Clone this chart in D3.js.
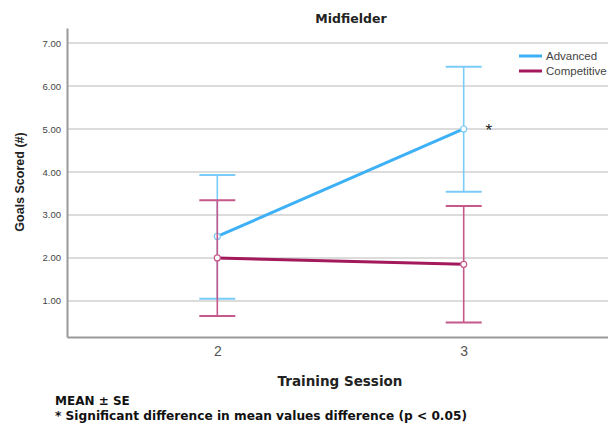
<!DOCTYPE html>
<html>
<head>
<script src="https://d3js.org/d3.v7.min.js"></script>
<style>
  body { margin: 0; background: #fff; }
  text { font-family: "Liberation Sans", Arial, sans-serif; }
</style>
</head>
<body>
<div id="chart"></div>
<script>
// data
var sessions = ["2", "3"];
var groups = ["Advanced", "Competitive"];
var advancedMean = [2.50, 5.00];
var advancedLow = [1.05, 3.54];
var advancedHigh = [3.93, 6.45];
var competitiveMean = [2.00, 1.85];
var competitiveLow = [0.65, 0.50];
var competitiveHigh = [3.34, 3.21];
var yTicks = [1, 2, 3, 4, 5, 6, 7];

var lineColors = ["#3db0f6", "#a3195b"];
var barColors = ["#7acbf7", "#c6588a"];

var width = 608, height = 425;
var margin = {left: 67, right: -6, top: 28, bottom: 88};

var svg = d3.select("#chart").append("svg")
  .attr("width", width)
  .attr("height", height);

var x = d3.scalePoint().domain(sessions)
  .range([margin.left, width - margin.right])
  .padding(0.61);
var y = d3.scaleLinear().domain([0.16, 7.35])
  .range([height - margin.bottom, margin.top]);

// gridlines
svg.append("g").selectAll("line")
  .data(yTicks)
  .enter().append("line")
  .attr("x1", margin.left).attr("x2", width)
  .attr("y1", function(d) { return y(d); })
  .attr("y2", function(d) { return y(d); })
  .attr("stroke", "#dcdcdc")
  .attr("stroke-width", 2);

// y axis
var yAxis = svg.append("g")
  .attr("transform", "translate(" + margin.left + ",0)")
  .call(d3.axisLeft(y).tickValues(yTicks).tickFormat(d3.format(".2f")).tickSize(0).tickPadding(6));
yAxis.select(".domain").attr("stroke", "#9a9a9a").attr("stroke-width", 2);
yAxis.selectAll("text").style("font-size", "9.5px").attr("fill", "#444");

// x axis
var xAxis = svg.append("g")
  .attr("transform", "translate(0," + (height - margin.bottom) + ")")
  .call(d3.axisBottom(x).tickSize(0).tickPadding(9));
xAxis.select(".domain").attr("stroke", "#9a9a9a").attr("stroke-width", 2);
xAxis.selectAll("text").style("font-size", "14px").attr("fill", "#555");

var series = [
  {name: groups[0], mean: advancedMean, low: advancedLow, high: advancedHigh},
  {name: groups[1], mean: competitiveMean, low: competitiveLow, high: competitiveHigh}
];

var line = d3.line()
  .x(function(d, i) { return x(sessions[i]); })
  .y(function(d) { return y(d); });

series.forEach(function(s, k) {
  var g = svg.append("g");
  // error bars
  sessions.forEach(function(sess, i) {
    g.append("line")
      .attr("x1", x(sess)).attr("x2", x(sess))
      .attr("y1", y(s.low[i])).attr("y2", y(s.high[i]))
      .attr("stroke", barColors[k]).attr("stroke-width", 1.6);
    [s.low[i], s.high[i]].forEach(function(v) {
      g.append("line")
        .attr("x1", x(sess) - 18).attr("x2", x(sess) + 18)
        .attr("y1", y(v)).attr("y2", y(v))
        .attr("stroke", barColors[k]).attr("stroke-width", 2);
    });
  });
  g.append("path")
    .datum(s.mean)
    .attr("fill", "none")
    .attr("stroke", lineColors[k])
    .attr("stroke-width", 3)
    .attr("d", line);
  g.selectAll("circle")
    .data(s.mean)
    .enter().append("circle")
    .attr("cx", function(d, i) { return x(sessions[i]); })
    .attr("cy", function(d) { return y(d); })
    .attr("r", 3)
    .attr("fill", "#fff")
    .attr("stroke", barColors[k])
    .attr("stroke-width", 1.2);
});

// significance star
svg.append("text")
  .attr("x", x("3") + 25).attr("y", y(advancedMean[1]) + 7)
  .attr("text-anchor", "middle")
  .style("font-size", "17px")
  .attr("fill", "#222")
  .text("*");

// legend
var legend = svg.append("g").attr("transform", "translate(519,56)");
groups.forEach(function(gname, k) {
  legend.append("line")
    .attr("x1", 0).attr("x2", 23)
    .attr("y1", k * 15).attr("y2", k * 15)
    .attr("stroke", lineColors[k]).attr("stroke-width", 3);
  legend.append("text")
    .attr("x", 27).attr("y", k * 15 + 4)
    .style("font-size", "11.5px")
    .attr("fill", "#444")
    .text(gname);
});

// title
svg.append("text")
  .attr("x", 351).attr("y", 23)
  .attr("text-anchor", "middle")
  .style("font-family", "'DejaVu Sans', sans-serif")
  .style("font-size", "12.5px").style("font-weight", "bold")
  .attr("fill", "#222")
  .text("Midfielder");

// y label
svg.append("text")
  .attr("transform", "translate(24," + 182 + ") rotate(-90)")
  .attr("text-anchor", "middle")
  .style("font-size", "12.5px").style("font-weight", "bold")
  .attr("fill", "#222")
  .text("Goals Scored (#)");

// x label
svg.append("text")
  .attr("x", 340).attr("y", 386)
  .attr("text-anchor", "middle")
  .style("font-family", "'DejaVu Sans', sans-serif")
  .style("font-size", "13.5px").style("font-weight", "bold")
  .attr("fill", "#222")
  .text("Training Session");

// notes
svg.append("text")
  .attr("x", 55).attr("y", 405)
  .style("font-family", "'DejaVu Sans', sans-serif")
  .style("font-size", "12px").style("font-weight", "bold")
  .attr("fill", "#111")
  .text("MEAN ± SE");
svg.append("text")
  .attr("x", 55).attr("y", 420)
  .style("font-family", "'DejaVu Sans', sans-serif")
  .style("font-size", "12px").style("font-weight", "bold")
  .attr("fill", "#111")
  .attr("textLength", 412)
  .attr("lengthAdjust", "spacingAndGlyphs")
  .text("* Significant difference in mean values difference (p < 0.05)");
</script>
</body>
</html>
